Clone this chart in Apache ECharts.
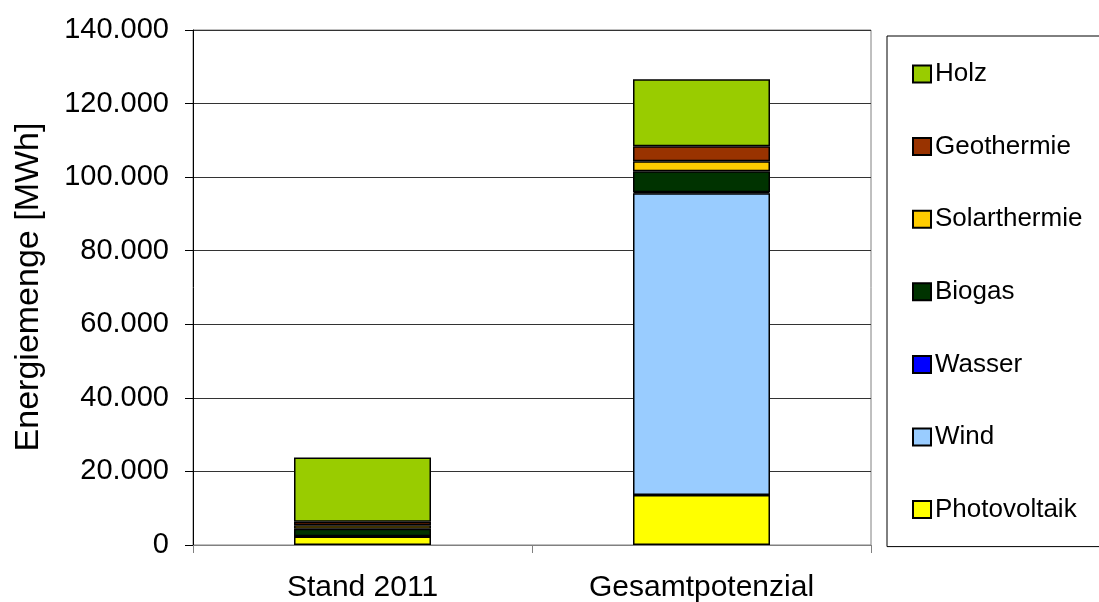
<!DOCTYPE html>
<html>
<head>
<meta charset="utf-8">
<script src="https://cdn.jsdelivr.net/npm/echarts@6/dist/echarts.min.js"></script>
<style>html,body{margin:0;padding:0;background:#fff;}#c{width:1099px;height:602px;}</style>
</head>
<body>
<div id="c"></div>
<script>
const categories = ['Stand 2011', 'Gesamtpotenzial'];
const photovoltaik = [2300, 13600];
const wind = [0, 82000];
const wasser = [100, 300];
const biogas = [2000, 5700];
const solarthermie = [1000, 2700];
const geothermie = [900, 4100];
const holz = [17500, 18200];
const yTicks = [0, 20000, 40000, 60000, 80000, 100000, 120000, 140000];
const yTitle = 'Energiemenge [MWh]';

const seriesDefs = [
  ['Photovoltaik', photovoltaik, '#FFFF00'],
  ['Wind', wind, '#99CCFF'],
  ['Wasser', wasser, '#0000FF'],
  ['Biogas', biogas, '#003300'],
  ['Solarthermie', solarthermie, '#FFCC00'],
  ['Geothermie', geothermie, '#993300'],
  ['Holz', holz, '#99CC00']
];

const fmt = v => v === 0 ? '0' : String(v).replace(/\B(?=(\d{3})+(?!\d))/g, '.');
const FONT = '"Liberation Sans", Arial, sans-serif';

const chart = echarts.init(document.getElementById('c'), null, {renderer: 'canvas'});
chart.setOption({
  animation: false,
  backgroundColor: '#fff',
  textStyle: {fontFamily: FONT},
  grid: {left: 193, right: 228, top: 30, bottom: 57, show: true, borderColor: '#808080', borderWidth: 1, containLabel: false, outerBoundsMode: 'none'},
  legend: {
    orient: 'vertical',
    left: 887, top: 36,
    icon: 'rect',
    data: seriesDefs.map(d => d[0]).reverse(),
    itemWidth: 18, itemHeight: 17, itemGap: 46.6,
    padding: [25, 60, 24, 25],
    borderColor: '#000', borderWidth: 1,
    textStyle: {fontSize: 26, color: '#000', fontFamily: FONT, lineHeight: 26, padding: [0,0,0,-1]}
  },
  xAxis: {
    type: 'category', data: categories,
    axisLine: {lineStyle: {color: '#808080', width: 1}},
    axisTick: {show: true, length: 8, lineStyle: {color: '#808080'}},
    axisLabel: {fontSize: 30, color: '#000', margin: 28, fontFamily: FONT}
  },
  yAxis: {
    type: 'value', min: yTicks[0], max: yTicks[yTicks.length - 1], interval: yTicks[1] - yTicks[0],
    axisLine: {show: true, lineStyle: {color: '#000', width: 1}},
    axisTick: {show: true, length: 8, lineStyle: {color: '#000'}},
    axisLabel: {fontSize: 29, color: '#000', margin: 24, formatter: fmt, fontFamily: FONT},
    splitLine: {show: true, lineStyle: {color: '#333', width: 1}}
  },
  graphic: [{
    type: 'text', x: 29, y: 287, rotation: Math.PI / 2,
    style: {text: yTitle, fontSize: 34, fill: '#000', fontFamily: FONT, align: 'center', verticalAlign: 'middle'}
  }],
  series: seriesDefs.map(d => ({
    name: d[0], type: 'bar', stack: 'total', data: d[1], barWidth: 137,
    itemStyle: {color: d[2], borderColor: '#000', borderWidth: 1.5}
  }))
});
</script>
</body>
</html>
